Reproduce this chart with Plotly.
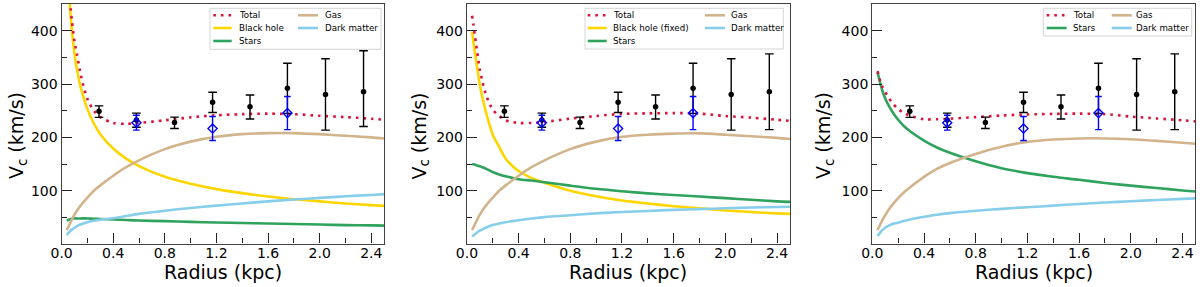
import plotly.graph_objects as go

# ---------------- data ----------------
R = [0.04, 0.05, 0.06, 0.07, 0.08, 0.1, 0.12, 0.15, 0.2, 0.25, 0.3, 0.4, 0.5, 0.6,
     0.8, 1.0, 1.2, 1.4, 1.6, 1.8, 2.0, 2.2, 2.4, 2.5]

# Panel 1
TOT1 = [570, 515, 475, 443, 418, 380, 355, 316, 272, 250, 238, 227, 225.5, 227,
        232, 237.5, 241.5, 243.5, 244.5, 243.5, 240.5, 238, 235, 233]
BH1 = [565, 505, 461, 427, 400, 357, 326, 292, 253, 226, 206, 179, 160, 146,
       126, 113, 103, 95.5, 89, 84, 80, 76, 73, 71.5]
STAR1 = [44, 45, 46, 47, 47.5, 48, 48, 48, 48, 47.5, 47, 46, 45, 44,
         43, 41.5, 40.5, 39.5, 38.5, 37.5, 36.5, 35.5, 35, 34.5]
GAS1 = [26, 31, 36, 41, 46, 55, 63, 73, 87, 100, 110, 128, 144, 157,
        178, 192, 201, 206, 208, 208, 206, 203, 200, 198]
DM1 = [17, 20, 22.5, 25, 27, 30.5, 33.5, 37, 41, 43.5, 45.5, 48.5, 52.5, 56.5,
       62.5, 67.5, 72, 76, 80, 83.5, 86.5, 89.5, 92, 93.5]

# Panel 2
TOT2 = [428, 412, 393, 377, 360, 327, 305, 278, 252, 240, 232, 227, 227, 229,
        235, 240, 244, 245, 245.5, 244.5, 240, 237, 233, 231]
BH2 = [398, 380, 362, 346, 330, 298, 275, 245, 205, 182, 160, 137, 124, 115,
       100, 89.5, 81.5, 76, 71, 67, 63, 60, 57.5, 56.5]
STAR2 = [150, 149.5, 149, 148, 147, 146, 144, 141, 135, 130.5, 127, 121.5, 119, 116,
         109.5, 103.5, 99, 95, 92, 89, 86, 83, 80, 79]
GAS2 = [26, 31, 36, 41, 46, 55, 63, 73, 87, 100, 110, 128, 144, 157,
        178, 192, 201, 205, 207, 207.5, 205, 202, 199, 197]
DM2 = [14, 16, 18, 20, 22, 25, 27.5, 31, 35.5, 38.5, 41, 44.5, 48, 50.5,
       54, 57.5, 60, 62, 64, 65.5, 67, 68.5, 69.5, 70]

# Panel 3
TOT3 = [324, 316, 307, 300, 294, 285, 277, 266, 253, 245, 240, 234, 234, 235,
        238, 241, 243, 244, 244.5, 243.5, 239, 235.5, 232, 230]
STAR3 = [322, 313, 303, 294, 286, 273, 263, 250, 233, 220, 210, 194, 181, 171,
         155, 142, 133, 126, 120.5, 114.5, 109.5, 105, 100.5, 98.5]
GAS3 = [26, 31, 36, 41, 46, 54, 62, 72, 86, 98, 108, 126, 141, 152,
        169, 182.5, 191.5, 196, 198, 198, 196.5, 193.5, 190, 188]
DM3 = [15, 18, 21, 24, 26.5, 30.5, 33.5, 37, 40, 43.5, 46.5, 51, 55, 58,
       62.5, 66, 69, 72, 75, 77.8, 80.3, 82.6, 84.7, 85.7]

# Observed rotation velocities (black points)
OBS_R = [0.29, 0.58, 0.875, 1.17, 1.46, 1.75, 2.045, 2.34]
OBS_V = [249, 232.5, 228, 266, 257.5, 292, 280.5, 285.5]
OBS_ERR_UP = [10, 13, 10, 18.5, 22, 47, 67, 71]
OBS_ERR_DN = [11.5, 13.5, 11.5, 19.5, 23, 47, 67, 71]
OBS_ERR_UP_P1 = [10, 13, 10, 18.5, 22, 47, 67, 77]
OBS_ERR_DN_P1 = [11.5, 13.5, 11.5, 19.5, 23, 47, 67, 65]

# Alternative measurements (blue open diamonds)
ALT_R = [0.58, 1.17, 1.75]
ALT_V = [227.5, 216.5, 245.5]
ALT_ERR = [14, 22.5, 31]

X_TICKS = [0.0, 0.4, 0.8, 1.2, 1.6, 2.0, 2.4]
Y_TICKS = [100, 200, 300, 400]

NAMES = {"tot": "Total", "bh": "Black hole", "bhf": "Black hole (fixed)",
         "star": "Stars", "gas": "Gas", "dm": "Dark matter"}
COLORS = {"tot": "#DC143C", "bh": "#FFD500", "bhf": "#FFD500", "star": "#2FA35E",
          "gas": "#D2B48C", "dm": "#87CEEB"}

PANELS = [
    {"curves": [("bh", BH1), ("star", STAR1), ("gas", GAS1), ("dm", DM1), ("tot", TOT1)],
     "legend_cols": [["tot", "bh", "star"], ["gas", "dm"]],
     "err": (OBS_ERR_UP_P1, OBS_ERR_DN_P1)},
    {"curves": [("bhf", BH2), ("star", STAR2), ("gas", GAS2), ("dm", DM2), ("tot", TOT2)],
     "legend_cols": [["tot", "bhf", "star"], ["gas", "dm"]],
     "err": (OBS_ERR_UP, OBS_ERR_DN)},
    {"curves": [("star", STAR3), ("gas", GAS3), ("dm", DM3), ("tot", TOT3)],
     "legend_cols": [["tot", "star"], ["gas", "dm"]],
     "err": (OBS_ERR_UP, OBS_ERR_DN)},
]

# ---------------- layout geometry (pixels) ----------------
W, H = 1200, 287
PANEL_PX = [(61.6, 384.2), (466.9, 790.0), (872.3, 1195.4)]
Y_PX = (3.5, 243.5)
LEGEND_BOX = [(210, 381, 8.3, 49.3), (585, 783.3, 8.3, 49.0), (1043.3, 1191.7, 8.3, 36.0)]
LEGEND_COLS_PX = [[(213.3, 231.7, 237.5), (298, 318, 324)],
                  [(587.7, 606.7, 612.3), (705, 725, 730)],
                  [(1046.7, 1066.7, 1071.7), (1111.7, 1131.7, 1135)]]
LEGEND_ROWS_PX = [15.3, 28.0, 41.0]
YLABEL_X = [17, 419.5, 824]

FONT = "DejaVu Sans, Verdana, sans-serif"


def fx(p):
    return p / W


def fy(p):
    return 1 - p / H


fig = go.Figure()
shapes = []
annotations = []

for i, panel in enumerate(PANELS):
    sfx = "" if i == 0 else str(i + 1)
    xa, ya = "x" + sfx, "y" + sfx
    for key, vals in panel["curves"]:
        is_tot = key == "tot"
        fig.add_trace(go.Scatter(
            x=R, y=vals, mode="lines", name=NAMES[key], showlegend=False,
            xaxis=xa, yaxis=ya, hoverinfo="skip",
            line=dict(color=COLORS[key], width=2.6,
                      dash="2.6px,5px" if is_tot else "solid",
                      shape="spline", smoothing=0.8),
        ))
    eu, ed = panel["err"]
    fig.add_trace(go.Scatter(
        x=OBS_R, y=OBS_V, mode="markers", name="Observed", showlegend=False,
        xaxis=xa, yaxis=ya,
        marker=dict(color="black", size=5.5),
        error_y=dict(type="data", array=eu, arrayminus=ed, color="black",
                     thickness=1.4, width=4.3),
    ))
    fig.add_trace(go.Scatter(
        x=ALT_R, y=ALT_V, mode="markers", name="Alternative", showlegend=False,
        xaxis=xa, yaxis=ya,
        marker=dict(symbol="diamond-open", color="blue", size=7,
                    line=dict(color="blue", width=1.4)),
        error_y=dict(type="data", array=ALT_ERR, color="blue",
                     thickness=1.4, width=3.3),
    ))

    x0, x1 = PANEL_PX[i]
    axis_common = dict(showgrid=False, zeroline=False, showline=True, mirror=True,
                       linecolor="#404040", linewidth=1.3, ticks="inside",
                       tickcolor="#222", tickwidth=1.2, ticklen=10, automargin=False,
                       tickfont=dict(family=FONT, size=14, color="black"))
    fig.update_layout(**{
        "xaxis" + sfx: dict(axis_common, domain=[fx(x0), fx(x1)], range=[0, 2.5],
                            anchor=ya, tickvals=X_TICKS, ticktext=[f"{t:.1f}" for t in X_TICKS],
                            ticklabelstandoff=-3,
                            minor=dict(tickvals=[0.2, 0.6, 1.0, 1.4, 1.8, 2.2], ticklen=5,
                                       ticks="inside", tickcolor="#222", tickwidth=1.1)),
        "yaxis" + sfx: dict(axis_common, domain=[fy(Y_PX[1]), fy(Y_PX[0])], range=[1, 451],
                            anchor=xa, tickvals=Y_TICKS,
                            minor=dict(tickvals=[50, 150, 250, 350], ticklen=5,
                                       ticks="inside", tickcolor="#222", tickwidth=1.1)),
    })

    # axis titles
    annotations.append(dict(text="Radius (kpc)", xref="paper", yref="paper",
                            x=fx((x0 + x1) / 2), y=fy(272), xanchor="center", yanchor="middle",
                            showarrow=False, font=dict(family=FONT, size=19, color="black")))
    annotations.append(dict(text="V<sub>c</sub> (km/s)", xref="paper", yref="paper",
                            x=fx(YLABEL_X[i]), y=fy(136), xanchor="center", yanchor="middle",
                            textangle=-90, showarrow=False,
                            font=dict(family=FONT, size=19, color="black")))

    # legend box
    bx0, bx1, by0, by1 = LEGEND_BOX[i]
    shapes.append(dict(type="rect", xref="paper", yref="paper",
                       x0=fx(bx0), x1=fx(bx1), y0=fy(by1), y1=fy(by0),
                       line=dict(color="#d0d0d0", width=0.9),
                       fillcolor="rgba(255,255,255,0.8)", layer="above"))
    for c, col in enumerate(panel["legend_cols"]):
        lx0, lx1, tx = LEGEND_COLS_PX[i][c]
        for r, key in enumerate(col):
            yy = fy(LEGEND_ROWS_PX[r])
            shapes.append(dict(type="line", xref="paper", yref="paper",
                               x0=fx(lx0), x1=fx(lx1), y0=yy, y1=yy, layer="above",
                               line=dict(color=COLORS[key], width=2.6,
                                         dash="2.6px,5px" if key == "tot" else "solid")))
            annotations.append(dict(text=NAMES[key], xref="paper", yref="paper",
                                    x=fx(tx), y=yy, xanchor="left", yanchor="middle",
                                    showarrow=False, borderpad=0,
                                    font=dict(family=FONT, size=8.7, color="black")))

fig.update_layout(width=W, height=H, margin=dict(l=0, r=0, t=0, b=0, autoexpand=False),
                  paper_bgcolor="white", plot_bgcolor="white",
                  showlegend=False, shapes=shapes, annotations=annotations,
                  font=dict(family=FONT))

fig.write_html("out.html", config={"displayModeBar": False},
               post_script="document.body.style.margin='0';")
